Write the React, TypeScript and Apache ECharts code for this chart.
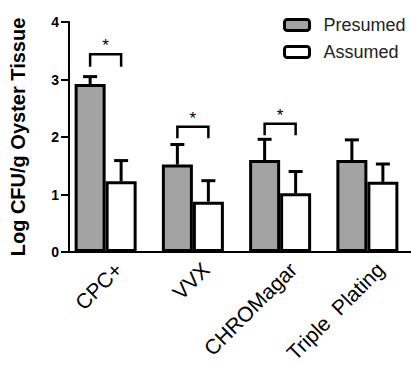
import React, { useEffect, useRef } from "react";
import * as echarts from "echarts";

const categories = ["CPC+", "VVX", "CHROMagar", "Triple  Plating"];
const presumed = [2.92, 1.52, 1.6, 1.6];
const presumedErr = [3.05, 1.87, 1.96, 1.95];
const assumed = [1.23, 0.875, 1.02, 1.22];
const assumedErr = [1.59, 1.24, 1.4, 1.53];
// [category index, leg bottom, bracket top, star y]
const brackets = [
  [0, 3.22, 3.44, 3.65],
  [1, 1.98, 2.18, 2.38],
  [2, 2.03, 2.23, 2.43],
];
const yTicks = [0, 1, 2, 3, 4];

const FONT = "'Liberation Sans', Arial, sans-serif";
const BAR_W = 31;

function errSeries(values: number[], errs: number[], off: number) {
  return {
    type: "custom",
    silent: true,
    z: 5,
    encode: { x: 0, y: 1 },
    data: values.map((v, i) => [i, v, errs[i]]),
    renderItem: (params: any, api: any) => {
      const i = api.value(0);
      const p0 = api.coord([i, api.value(1)]);
      const p1 = api.coord([i, api.value(2)]);
      const x = p0[0] + off;
      return {
        type: "group",
        children: [
          {
            type: "line",
            shape: { x1: x, y1: p0[1], x2: x, y2: p1[1] },
            style: { stroke: "#000", lineWidth: 3 },
          },
          {
            type: "line",
            shape: { x1: x - 7, y1: p1[1], x2: x + 7, y2: p1[1] },
            style: { stroke: "#000", lineWidth: 3 },
          },
        ],
      };
    },
  };
}

export default function App() {
  const ref = useRef<HTMLDivElement>(null);
  useEffect(() => {
    if (!ref.current) return;
    const chart = echarts.init(ref.current, null, { renderer: "svg" });
    chart.setOption({
      animation: false,
      backgroundColor: "#fff",
      grid: [
        { left: 62, top: 22, width: 358, height: 230, containLabel: false },
        { left: 68, top: 22, right: 0, height: 230, containLabel: false },
      ],
      legend: {
        data: ["Presumed", "Assumed"],
        orient: "vertical",
        left: 283,
        top: 16,
        padding: 0,
        itemWidth: 25,
        itemHeight: 11,
        itemGap: 9,
        itemStyle: { borderColor: "#000", borderWidth: 3 },
        textStyle: { fontSize: 18, color: "#222", fontFamily: FONT, padding: [0, 0, 0, 9] },
      },
      xAxis: [
        {
          type: "category",
          gridIndex: 0,
          data: categories,
          axisLine: { show: false },
          axisTick: { show: false },
          axisLabel: { show: false },
        },
        {
          type: "value",
          gridIndex: 1,
          min: 0,
          max: 1,
          axisLine: { show: true, lineStyle: { color: "#000", width: 2 } },
          axisTick: { show: false },
          axisLabel: { show: false },
          splitLine: { show: false },
        },
      ],
      yAxis: [
        { type: "value", gridIndex: 0, min: 0, max: 4, interval: 1, show: false },
        {
          type: "value",
          gridIndex: 1,
          min: 0,
          max: 4,
          interval: 1,
          name: "Log CFU/g Oyster Tissue",
          nameLocation: "middle",
          nameGap: 41,
          nameTextStyle: { fontSize: 20, fontWeight: "bold", color: "#000", fontFamily: FONT },
          splitLine: { show: false },
          axisLine: { show: true, lineStyle: { color: "#000", width: 2 } },
          axisTick: { show: true, length: 8, lineStyle: { color: "#000", width: 2 } },
          axisLabel: {
            fontSize: 14,
            fontWeight: "bold",
            color: "#000",
            fontFamily: FONT,
            margin: 10,
            formatter: (v: number) => (yTicks.includes(v) ? String(v) : ""),
          },
        },
      ],
      series: [
        {
          name: "Presumed",
          type: "bar",
          data: presumed,
          barWidth: BAR_W,
          barGap: "0%",
          itemStyle: { color: "#a3a3a3", borderColor: "#000", borderWidth: 3 },
        },
        {
          name: "Assumed",
          type: "bar",
          data: assumed,
          barWidth: BAR_W,
          barGap: "0%",
          itemStyle: { color: "#fff", borderColor: "#000", borderWidth: 3 },
        },
        errSeries(presumed, presumedErr, -BAR_W / 2),
        errSeries(assumed, assumedErr, BAR_W / 2),
        {
          type: "custom",
          silent: true,
          z: 6,
          encode: { x: 0, y: 1 },
          data: brackets,
          renderItem: (params: any, api: any) => {
            const i = api.value(0);
            const pb = api.coord([i, api.value(1)]);
            const pt = api.coord([i, api.value(2)]);
            const ps = api.coord([i, api.value(3)]);
            const xl = pb[0] - BAR_W / 2;
            const xr = pb[0] + BAR_W / 2;
            return {
              type: "group",
              children: [
                {
                  type: "polyline",
                  shape: {
                    points: [
                      [xl, pb[1]],
                      [xl, pt[1]],
                      [xr, pt[1]],
                      [xr, pb[1]],
                    ],
                  },
                  style: { stroke: "#000", lineWidth: 2.5, fill: null },
                },
                {
                  type: "text",
                  x: pb[0],
                  y: ps[1] + 3,
                  style: {
                    text: "*",
                    fontSize: 17,
                    fontFamily: FONT,
                    fill: "#000",
                    align: "center",
                    verticalAlign: "middle",
                  },
                },
              ],
            };
          },
        },
        {
          type: "custom",
          silent: true,
          clip: false,
          z: 7,
          encode: { x: 0, y: 1 },
          data: categories.map((_, i) => [i, 0]),
          renderItem: (params: any, api: any) => {
            const p = api.coord([api.value(0), 0]);
            return {
              type: "text",
              x: p[0] + 13,
              y: p[1] + 14,
              rotation: Math.PI / 4,
              style: {
                text: categories[params.dataIndex],
                fontSize: 21,
                fontFamily: FONT,
                fill: "#000",
                align: "right",
                verticalAlign: "middle",
              },
            };
          },
        },
      ],
    });
    return () => chart.dispose();
  }, []);
  return (
    <div
      ref={ref}
      style={{ position: "fixed", left: 0, top: 0, width: 411, height: 365 }}
    />
  );
}
